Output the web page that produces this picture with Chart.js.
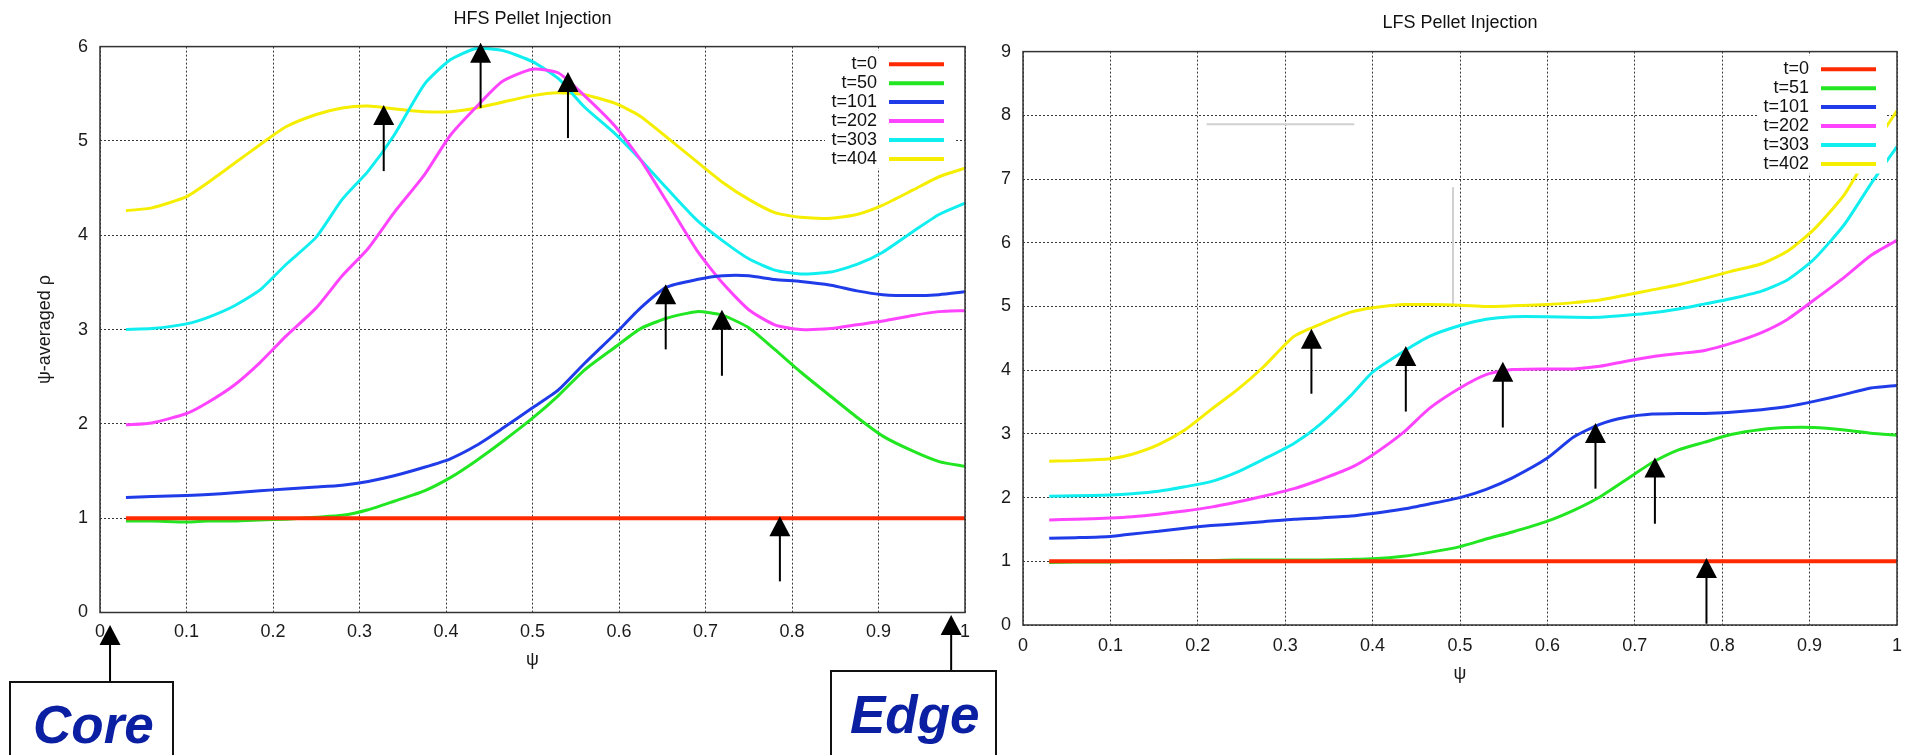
<!DOCTYPE html>
<html>
<head>
<meta charset="utf-8">
<title>HFS / LFS Pellet Injection</title>
<script src="https://cdn.jsdelivr.net/npm/chart.js@4.4.1/dist/chart.umd.min.js"></script>
<style>
  html, body { margin: 0; padding: 0; background: #fff; overflow: hidden; }
  body { width: 1914px; height: 755px; position: relative; }
  #hfsWrap { position: absolute; left: 0; top: 0; width: 980px; height: 755px; }
  #lfsWrap { position: absolute; left: 980px; top: 0; width: 934px; height: 755px; }
  .callout { position: absolute; border: 2px solid #111; background: #fff; height: 140px; box-sizing: border-box; }
  .calloutText {
    position: absolute; font-family: 'Liberation Sans', Arial, sans-serif;
    font-weight: bold; font-style: italic; font-size: 53px; line-height: 53px;
    color: #0b1fa3; white-space: nowrap;
  }
</style>
</head>
<body>
<div id="hfsWrap"><canvas id="hfs"></canvas></div>
<div id="lfsWrap"><canvas id="lfs"></canvas></div>

<div class="callout" style="left:9px; top:681px; width:165px;"></div>
<div class="calloutText" style="left:33px; top:698px;">Core</div>
<div class="callout" style="left:830px; top:670px; width:167px;"></div>
<div class="calloutText" style="left:850px; top:688px;">Edge</div>

<script>
// ----------------------------------------------------
// Data
// ----------------------------------------------------
const psiEnds = [0.03, 1.0];
const rhoInit = [1.0, 1.0];

// HFS panel
const hfsLabels = ['t=0', 't=50', 't=101', 't=202', 't=303', 't=404'];
const hfsPsi = [0.03, 0.06, 0.1, 0.125, 0.155, 0.185, 0.215, 0.25, 0.28, 0.31, 0.34, 0.375, 0.405, 0.435, 0.465, 0.5,
                0.53, 0.56, 0.595, 0.625, 0.655, 0.69, 0.72, 0.75, 0.78, 0.81, 0.845, 0.875, 0.905, 0.94, 0.97, 1.0];
const hfsT50  = [0.97, 0.97, 0.96, 0.97, 0.97, 0.98, 0.99, 1.01, 1.03, 1.09, 1.18, 1.29, 1.43, 1.61, 1.81, 2.06,
                 2.30, 2.57, 2.81, 3.01, 3.12, 3.19, 3.15, 3.02, 2.79, 2.55, 2.29, 2.07, 1.87, 1.71, 1.60, 1.55];
const hfsT101 = [1.22, 1.23, 1.24, 1.25, 1.27, 1.29, 1.31, 1.33, 1.35, 1.39, 1.45, 1.54, 1.63, 1.77, 1.95, 2.17,
                 2.36, 2.64, 2.95, 3.23, 3.45, 3.53, 3.57, 3.57, 3.53, 3.51, 3.47, 3.41, 3.37, 3.36, 3.37, 3.40];
const hfsT202 = [1.99, 2.01, 2.11, 2.23, 2.41, 2.65, 2.93, 3.23, 3.57, 3.86, 4.24, 4.64, 5.06, 5.36, 5.63, 5.76,
                 5.72, 5.48, 5.16, 4.80, 4.36, 3.84, 3.49, 3.21, 3.05, 3.00, 3.01, 3.05, 3.09, 3.15, 3.19, 3.20];
const hfsT303 = [3.00, 3.01, 3.06, 3.13, 3.25, 3.42, 3.69, 3.98, 4.38, 4.68, 5.06, 5.60, 5.86, 5.98, 5.96, 5.84,
                 5.66, 5.36, 5.08, 4.80, 4.50, 4.16, 3.94, 3.75, 3.63, 3.59, 3.61, 3.69, 3.82, 4.04, 4.22, 4.34];
const hfsT404 = [4.26, 4.29, 4.41, 4.56, 4.76, 4.96, 5.15, 5.28, 5.35, 5.37, 5.34, 5.31, 5.31, 5.35, 5.41, 5.48,
                 5.51, 5.49, 5.40, 5.26, 5.04, 4.78, 4.56, 4.38, 4.24, 4.19, 4.18, 4.22, 4.32, 4.48, 4.62, 4.71];
const hfsArrowX    = [0.328, 0.44, 0.541, 0.654, 0.719, 0.786];
const hfsArrowTail = [4.68, 5.35, 5.03, 2.79, 2.51, 0.33];
const hfsArrowTip  = [5.38, 6.04, 5.73, 3.48, 3.21, 1.02];
// arrows from the Core / Edge boxes up to the psi axis
const calloutX    = [0.0116, 0.984];
const calloutTail = [-0.726, -0.61];
const calloutTip  = [-0.133, -0.027];

// LFS panel
const lfsLabels = ['t=0', 't=51', 't=101', 't=202', 't=303', 't=402'];
const lfsPsi = [0.03, 0.06, 0.1, 0.125, 0.155, 0.185, 0.215, 0.245, 0.275, 0.31, 0.34, 0.375, 0.4, 0.435, 0.465, 0.5,
                0.53, 0.56, 0.6, 0.63, 0.66, 0.69, 0.72, 0.75, 0.78, 0.81, 0.845, 0.875, 0.905, 0.94, 0.97, 1.0];
const lfsT51  = [0.98, 0.99, 0.99, 1.00, 1.00, 1.01, 1.01, 1.02, 1.02, 1.02, 1.02, 1.03, 1.04, 1.08, 1.14, 1.23,
                 1.35, 1.46, 1.63, 1.80, 2.01, 2.28, 2.55, 2.75, 2.87, 2.99, 3.07, 3.10, 3.10, 3.06, 3.01, 2.98];
const lfsT101 = [1.36, 1.37, 1.39, 1.43, 1.47, 1.52, 1.56, 1.59, 1.62, 1.66, 1.68, 1.71, 1.75, 1.82, 1.90, 2.00,
                 2.13, 2.31, 2.62, 2.95, 3.15, 3.26, 3.31, 3.32, 3.32, 3.34, 3.38, 3.43, 3.51, 3.62, 3.72, 3.76];
const lfsT202 = [1.65, 1.66, 1.68, 1.70, 1.74, 1.79, 1.85, 1.93, 2.02, 2.14, 2.28, 2.47, 2.67, 3.02, 3.40, 3.72,
                 3.93, 4.01, 4.02, 4.02, 4.06, 4.14, 4.21, 4.26, 4.31, 4.42, 4.59, 4.80, 5.10, 5.46, 5.80, 6.04];
const lfsT303 = [2.02, 2.03, 2.04, 2.06, 2.10, 2.17, 2.25, 2.40, 2.60, 2.85, 3.15, 3.60, 3.97, 4.29, 4.53, 4.70,
                 4.80, 4.84, 4.84, 4.83, 4.83, 4.86, 4.90, 4.96, 5.04, 5.12, 5.24, 5.42, 5.74, 6.29, 6.92, 7.51];
const lfsT402 = [2.57, 2.58, 2.61, 2.68, 2.83, 3.06, 3.38, 3.69, 4.05, 4.53, 4.72, 4.91, 4.98, 5.03, 5.03, 5.02,
                 5.00, 5.01, 5.03, 5.06, 5.10, 5.18, 5.26, 5.34, 5.44, 5.55, 5.67, 5.87, 6.21, 6.76, 7.45, 8.07];
const lfsArrowX    = [0.330, 0.438, 0.549, 0.655, 0.723, 0.782];
const lfsArrowTail = [3.63, 3.35, 3.10, 2.14, 1.59, 0.02];
const lfsArrowTip  = [4.65, 4.38, 4.13, 3.17, 2.63, 1.05];
// faint grey stray strokes in the LFS panel
const strayH = [[0.21, 7.86], [0.379, 7.86]];
const strayV = [[0.492, 6.87], [0.492, 5.03]];

const curveColors = ['#ff2a00', '#22e622', '#1f3ce8', '#ff44ff', '#11eef0', '#f5ee00'];

// ----------------------------------------------------
// Chart.js defaults
// ----------------------------------------------------
Chart.defaults.font.family = "'Liberation Sans', Arial, sans-serif";
Chart.defaults.font.size = 18;
Chart.defaults.color = '#1a1a1a';
Chart.defaults.animation = false;

function xy(xs, ys) {
    return xs.map((x, i) => ({ x: x, y: ys[i] }));
}

function curve(label, data, color, width) {
    return {
        label: label,
        data: data,
        borderColor: color,
        backgroundColor: color,
        borderWidth: width || 3,
        pointRadius: 0,
        tension: 0.2,
        fill: false
    };
}

// arrows, plot frame and the gnuplot-style legend
const overlays = {
    hfs: { arrows: [[hfsArrowX, hfsArrowTail, hfsArrowTip], [calloutX, calloutTail, calloutTip]] },
    lfs: { arrows: [[lfsArrowX, lfsArrowTail, lfsArrowTip]] }
};

const gnuplotDecor = {
    id: 'gnuplotDecor',
    afterDatasetsDraw(chart) {
        const ctx = chart.ctx;
        const area = chart.chartArea;
        const xs = chart.scales.x, ys = chart.scales.y;
        const cfg = overlays[chart.canvas.id];

        // frame
        ctx.save();
        ctx.strokeStyle = '#333';
        ctx.lineWidth = 1.5;
        ctx.strokeRect(area.left, area.top, area.right - area.left, area.bottom - area.top);

        // legend box (white, hides grid)
        const right = area.right;
        ctx.fillStyle = '#fff';
        ctx.fillRect(right - 140, area.top + 4, 130, 118);
        ctx.font = "18px 'Liberation Sans', Arial, sans-serif";
        ctx.textAlign = 'right';
        ctx.textBaseline = 'middle';
        let row = 0;
        chart.data.datasets.forEach(ds => {
            if (!ds.label) return;
            const y = area.top + 17.6 + row * 18.95;
            ctx.fillStyle = '#111';
            ctx.fillText(ds.label, right - 88, y);
            ctx.beginPath();
            ctx.moveTo(right - 76, y);
            ctx.lineTo(right - 21, y);
            ctx.strokeStyle = ds.borderColor;
            ctx.lineWidth = 4;
            ctx.stroke();
            row++;
        });

        // arrows
        ctx.fillStyle = '#000';
        ctx.strokeStyle = '#000';
        cfg.arrows.forEach(set => {
            const [ax, tail, tip] = set;
            ax.forEach((v, i) => {
                const px = xs.getPixelForValue(v);
                const pTail = ys.getPixelForValue(tail[i]);
                const pTip = ys.getPixelForValue(tip[i]);
                const headH = 20, headW = 21;
                ctx.beginPath();
                ctx.moveTo(px, pTail);
                ctx.lineTo(px, pTip + headH - 1);
                ctx.lineWidth = 2;
                ctx.stroke();
                ctx.beginPath();
                ctx.moveTo(px, pTip);
                ctx.lineTo(px - headW / 2, pTip + headH);
                ctx.lineTo(px + headW / 2, pTip + headH);
                ctx.closePath();
                ctx.fill();
            });
        });
        ctx.restore();
    }
};

function buildOptions(o) {
    return {
        responsive: true,
        maintainAspectRatio: false,
        layout: { padding: { left: 0, right: o.padRight, top: 0, bottom: 0 } },
        plugins: {
            legend: { display: false },
            tooltip: { enabled: false },
            title: {
                display: true,
                fullSize: false, // centre over the plot area, like gnuplot
                text: o.title,
                color: '#111',
                font: { size: 18, weight: 'normal' },
                padding: { top: o.titleTop, bottom: o.titleBottom }
            }
        },
        scales: {
            x: {
                type: 'linear',
                min: 0,
                max: 1,
                afterFit: s => { s.height = o.xHeight; },
                ticks: {
                    stepSize: 0.1, padding: o.xTickPad, maxRotation: 0, autoSkip: false, color: '#1a1a1a',
                    callback: v => String(Number(v.toFixed(1)))
                },
                grid: { color: '#3a3a3a', lineWidth: 1, drawTicks: false },
                border: { display: false, dash: [2, 2] },
                title: { display: true, text: 'ψ', color: '#1a1a1a', font: { size: 18 },
                         padding: { top: 0, bottom: o.xTitleBottom } }
            },
            y: {
                min: 0,
                max: o.yMax,
                afterFit: s => { s.width = o.yWidth; },
                ticks: { stepSize: 1, padding: 12, color: '#1a1a1a' },
                grid: { color: '#3a3a3a', lineWidth: 1, drawTicks: false },
                border: { display: false, dash: [2, 2] },
                title: { display: !!o.yTitle, text: o.yTitle || '', color: '#1a1a1a', font: { size: 18 },
                         padding: { top: 34, bottom: 0 } }
            }
        }
    };
}

document.addEventListener('DOMContentLoaded', function() {
    // ----------------------------------------------------
    // 1. HFS Pellet Injection
    // ----------------------------------------------------
    new Chart(document.getElementById('hfs'), {
        type: 'line',
        data: {
            datasets: [
                curve(hfsLabels[0], xy(psiEnds, rhoInit), curveColors[0], 4),
                curve(hfsLabels[1], xy(hfsPsi, hfsT50), curveColors[1]),
                curve(hfsLabels[2], xy(hfsPsi, hfsT101), curveColors[2]),
                curve(hfsLabels[3], xy(hfsPsi, hfsT202), curveColors[3]),
                curve(hfsLabels[4], xy(hfsPsi, hfsT303), curveColors[4]),
                curve(hfsLabels[5], xy(hfsPsi, hfsT404), curveColors[5])
            ]
        },
        options: buildOptions({
            title: 'HFS Pellet Injection', titleTop: 8, titleBottom: 17,
            padRight: 15, yWidth: 100, yMax: 6, yTitle: 'ψ-averaged ρ',
            xHeight: 142.5, xTickPad: 9, xTitleBottom: 84
        }),
        plugins: [gnuplotDecor]
    });

    // ----------------------------------------------------
    // 2. LFS Pellet Injection
    // ----------------------------------------------------
    const stray = {
        borderColor: '#d0d0d0', borderWidth: 2, pointRadius: 0, fill: false
    };
    new Chart(document.getElementById('lfs'), {
        type: 'line',
        data: {
            datasets: [
                curve(lfsLabels[0], xy(psiEnds, rhoInit), curveColors[0], 4),
                curve(lfsLabels[1], xy(lfsPsi, lfsT51), curveColors[1]),
                curve(lfsLabels[2], xy(lfsPsi, lfsT101), curveColors[2]),
                curve(lfsLabels[3], xy(lfsPsi, lfsT202), curveColors[3]),
                curve(lfsLabels[4], xy(lfsPsi, lfsT303), curveColors[4]),
                curve(lfsLabels[5], xy(lfsPsi, lfsT402), curveColors[5]),
                Object.assign({ data: strayH.map(p => ({ x: p[0], y: p[1] })) }, stray),
                Object.assign({ data: strayV.map(p => ({ x: p[0], y: p[1] })) }, stray)
            ]
        },
        options: buildOptions({
            title: 'LFS Pellet Injection', titleTop: 12, titleBottom: 18,
            padRight: 17, yWidth: 43, yMax: 9, yTitle: null,
            xHeight: 130, xTickPad: 10, xTitleBottom: 70
        }),
        plugins: [gnuplotDecor]
    });
});
</script>
</body>
</html>
